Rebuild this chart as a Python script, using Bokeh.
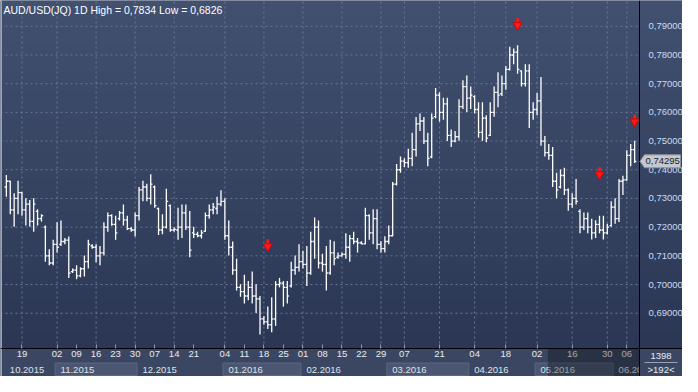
import numpy as np
from bokeh.plotting import figure
from bokeh.models import (Range1d, FixedTicker, CustomJSTickFormatter, Label, LinearAxis,
                          ColumnDataSource)
from bokeh.embed import file_html
from bokeh.resources import INLINE
from bokeh.core.properties import value

# ---------------- data (AUD/USD daily OHLC) ----------------
high = [
    .7382, .7362, .7318, .7362, .7323, .7301, .7295, .7301, .7262, .7245,
    .7206, .7123, .7156, .7217, .7223, .7162, .7167, .7056, .7067, .7060,
    .7101, .7156, .7140, .7140, .7134, .7217, .7251, .7245, .7240, .7256,
    .7279, .7240, .7200, .7251, .7340, .7362, .7351, .7384, .7345, .7268,
    .7245, .7334, .7279, .7200, .7268, .7279, .7279, .7256, .7201, .7184,
    .7190, .7251, .7279, .7284, .7306, .7329, .7301, .7223, .7150, .7090,
    .7001, .7034, .7012, .7045, .7001, .6960, .6890, .6923, .6956, .7012,
    .7023, .7012, .7012, .7079, .7101, .7140, .7118, .7134, .7184, .7234,
    .7223, .7107, .7134, .7156, .7151, .7112, .7112, .7179, .7173, .7184,
    .7162, .7151, .7268, .7245, .7262, .7262, .7151, .7168, .7206, .7357,
    .7420, .7446, .7440, .7473, .7529, .7584, .7596, .7584, .7529, .7596,
    .7685, .7670, .7651, .7651, .7540, .7535, .7646, .7712, .7729, .7690,
    .7660, .7635, .7635, .7590, .7635, .7690, .7740, .7729, .7762, .7829,
    .7823, .7834, .7746, .7768, .7768, .7635, .7668, .7723, .7518, .7490,
    .7479, .7390, .7401, .7407, .7335, .7318, .7368, .7262, .7251, .7251,
    .7229, .7224, .7240, .7240, .7212, .7290, .7301, .7368, .7379, .7468,
    .7490, .7501,
]
low = [
    .7306, .7245, .7201, .7245, .7240, .7206, .7201, .7184, .7206, .7220,
    .7079, .7067, .7067, .7112, .7134, .7140, .7023, .7040, .7018, .7025,
    .7028, .7056, .7125, .7078, .7067, .7101, .7184, .7205, .7156, .7223,
    .7206, .7190, .7184, .7167, .7223, .7290, .7290, .7279, .7268, .7173,
    .7175, .7195, .7184, .7184, .7156, .7162, .7190, .7095, .7162, .7165,
    .7160, .7184, .7229, .7245, .7245, .7273, .7156, .7101, .7034, .6979,
    .6957, .6934, .6945, .6934, .6901, .6826, .6860, .6845, .6834, .6856,
    .6990, .6923, .6934, .6990, .7034, .7045, .7056, .6995, .7034, .7090,
    .7056, .7045, .6979, .7034, .7067, .7090, .7098, .7090, .7079, .7140,
    .7112, .7140, .7140, .7156, .7140, .7123, .7112, .7112, .7140, .7168,
    .7345, .7390, .7410, .7407, .7412, .7446, .7535, .7490, .7412, .7440,
    .7580, .7568, .7574, .7500, .7479, .7496, .7501, .7612, .7601, .7612,
    .7596, .7512, .7501, .7496, .7518, .7585, .7618, .7657, .7679, .7746,
    .7768, .7735, .7690, .7690, .7546, .7574, .7590, .7484, .7446, .7435,
    .7340, .7301, .7335, .7312, .7257, .7268, .7279, .7179, .7190, .7179,
    .7157, .7162, .7179, .7157, .7174, .7201, .7212, .7218, .7312, .7362,
    .7412, .7424,
]
open_ = [
    .7340, .7360, .7260, .7300, .7320, .7260, .7280, .7220, .7255, .7230,
    .7200, .7100, .7075, .7140, .7140, .7150, .7155, .7045, .7050, .7030,
    .7055, .7080, .7135, .7130, .7100, .7110, .7200, .7240, .7210, .7230,
    .7250, .7225, .7195, .7190, .7240, .7330, .7340, .7300, .7340, .7265,
    .7190, .7200, .7275, .7190, .7190, .7200, .7250, .7200, .7180, .7175,
    .7170, .7185, .7240, .7260, .7265, .7280, .7290, .7170, .7130, .7050,
    .6990, .6975, .6960, .6990, .6960, .6950, .6880, .6870, .6860, .6880,
    .7000, .7005, .6990, .6995, .7050, .7060, .7080, .7070, .7040, .7150,
    .7200, .7075, .7070, .7040, .7110, .7095, .7100, .7105, .7130, .7160,
    .7150, .7145, .7142, .7240, .7180, .7230, .7140, .7125, .7150, .7170,
    .7350, .7400, .7430, .7425, .7440, .7470, .7560, .7570, .7500, .7445,
    .7585, .7660, .7600, .7630, .7520, .7500, .7515, .7620, .7690, .7650,
    .7655, .7610, .7530, .7580, .7520, .7600, .7670, .7665, .7700, .7750,
    .7800, .7810, .7745, .7700, .7745, .7600, .7610, .7640, .7500, .7460,
    .7450, .7360, .7340, .7380, .7330, .7280, .7300, .7255, .7200, .7230,
    .7200, .7180, .7210, .7190, .7180, .7205, .7270, .7230, .7360, .7365,
    .7450, .7470,
]
close_ = [
    .7360, .7260, .7300, .7320, .7260, .7280, .7220, .7280, .7230, .7240,
    .7100, .7075, .7140, .7130, .7150, .7155, .7040, .7050, .7030, .7055,
    .7080, .7140, .7130, .7100, .7110, .7200, .7240, .7210, .7180, .7250,
    .7225, .7195, .7190, .7240, .7330, .7340, .7300, .7350, .7275, .7190,
    .7200, .7290, .7190, .7192, .7200, .7250, .7200, .7120, .7175, .7170,
    .7180, .7240, .7260, .7270, .7280, .7290, .7170, .7130, .7050, .6990,
    .6975, .6960, .6990, .6960, .6950, .6880, .6870, .6860, .6880, .7000,
    .7005, .6990, .6960, .7050, .7060, .7080, .7070, .7040, .7150, .7200,
    .7075, .7070, .7040, .7110, .7090, .7100, .7105, .7130, .7160, .7150,
    .7145, .7142, .7240, .7180, .7230, .7140, .7125, .7150, .7170, .7350,
    .7400, .7430, .7425, .7440, .7470, .7560, .7570, .7500, .7440, .7580,
    .7660, .7600, .7630, .7520, .7500, .7515, .7620, .7690, .7650, .7660,
    .7610, .7530, .7580, .7510, .7600, .7670, .7660, .7700, .7750, .7800,
    .7810, .7750, .7700, .7745, .7600, .7610, .7640, .7500, .7460, .7450,
    .7360, .7330, .7380, .7330, .7280, .7300, .7290, .7200, .7230, .7200,
    .7180, .7210, .7190, .7180, .7200, .7270, .7230, .7360, .7365, .7450,
    .7470, .74295,
]
bar_idx = list(range(len(close_)))

# signal arrows (bar index, price of arrow tip)
sig_idx = [67, 131, 152, 161]
sig_tip = [0.7122, 0.7893, 0.7373, 0.7557]

# axis ticks / labels
price_ticks = [0.69, 0.70, 0.71, 0.72, 0.73, 0.74, 0.75, 0.76, 0.77, 0.78, 0.79]
day_tick_idx = [4, 13, 18, 23, 28, 33, 38, 43, 48, 56, 61, 66, 71, 76, 81, 86, 91, 96,
                102, 111, 120, 128, 136, 145, 154, 159]
day_tick_labels = ["19", "02", "09", "16", "23", "30", "07", "14", "21", "04", "11", "18",
                   "25", "01", "08", "15", "22", "29", "07", "21", "04", "18", "02", "16",
                   "30", "06"]
grid_idx = [4, 13, 23, 33, 43, 56, 66, 76, 86, 96, 102, 111, 120, 128, 136, 145, 154, 159]
month_start_idx = [0, 13, 34, 56, 76, 98, 119, 136, 156, 162]
month_labels = ["10.2015", "11.2015", "12.2015", "01.2016", "02.2016", "03.2016",
                "04.2016", "05.2016", "06.2016"]
title_text = "AUD/USD(JQ) 1D High = 0,7834 Low = 0,6826"
last_text = "0,74295"
count_text = "1398"
window_text = ">192<"
shade_from_idx = 139

# ---------------- layout constants ----------------
W, H = 682, 376
PRICE_W, PRICE_H = 639, 348       # pixel size of the price area inside the canvas
ROW_H = 14                          # each of the two date rows
X0, X1 = -1.5, 162.25
Y0, Y1 = 0.6777, 0.799
pxpi = PRICE_W / (X1 - X0)          # pixels per bar index
ppu = PRICE_H / (Y1 - Y0)           # pixels per price unit
SX1 = X0 + W / pxpi
SYM = Y0 - ROW_H / ppu
SY0 = Y0 - 2 * ROW_H / ppu
FONT = "Liberation Sans"
FS = "9.5px"


def dx(px):
    return px / pxpi


def dy(px):
    return px / ppu


p = figure(width=W, height=H, x_range=Range1d(X0, SX1), y_range=Range1d(SY0, Y1),
           output_backend="svg", toolbar_location=None, x_axis_location=None,
           y_axis_location=None, min_border=0)
p.grid.visible = False
p.outline_line_color = None
p.background_fill_color = "#36445f"
p.border_fill_color = "#36445f"

# vertical gradient background (price area + price scale)
n = 64
t = np.linspace(0.0, 1.0, n)
bot = np.array([43, 55, 84], dtype=float)
top = np.array([66, 81, 112], dtype=float)
rgb = bot[None, :] * (1 - t[:, None]) + top[None, :] * t[:, None]
img = np.empty((n, 1), dtype=np.uint32)
view = img.view(dtype=np.uint8).reshape((n, 1, 4))
view[:, 0, 0:3] = rgb.astype(np.uint8)
view[:, 0, 3] = 255
p.image_rgba(image=[img], x=X0, y=Y0, dw=SX1 - X0, dh=Y1 - Y0)

# dashed grid
p.segment(x0=grid_idx, y0=[Y0] * len(grid_idx), x1=grid_idx, y1=[Y1] * len(grid_idx),
          line_color="#687799", line_width=1, line_dash="2 3")
p.segment(x0=[X0] * len(price_ticks), y0=price_ticks, x1=[X1] * len(price_ticks),
          y1=price_ticks, line_color="#687799", line_width=1, line_dash="2 3")

# OHLC bars
src = ColumnDataSource(dict(
    x=bar_idx, o=open_, h=high, l=low, c=close_,
    xl=[i - 0.45 for i in bar_idx], xr=[i + 0.45 for i in bar_idx]))
p.segment(x0="x", y0="l", x1="x", y1="h", source=src, line_color="white", line_width=1.3)
p.segment(x0="xl", y0="o", x1="x", y1="o", source=src, line_color="white", line_width=1.3)
p.segment(x0="x", y0="c", x1="xr", y1="c", source=src, line_color="white", line_width=1.3)

# red arrows
sig = ColumnDataSource(dict(
    x=sig_idx,
    head=[v + 0.0011 for v in sig_tip],
    s0=[v + 0.0016 for v in sig_tip],
    s1=[v + 0.0036 for v in sig_tip]))
p.segment(x0="x", y0="s0", x1="x", y1="s1", source=sig, line_color="#ff1a1a", line_width=2.5)
p.scatter(x="x", y="head", source=sig, marker="inverted_triangle", size=9,
          fill_color="#ff1a1a", line_color="#e00000")

# date rows background, month boxes and labels
p.quad(left=[X0], right=[SX1], bottom=[SY0], top=[Y0], fill_color="#3b4762", line_color=None)
box_l = [month_start_idx[k] - 0.5 for k in (1, 3, 5, 7)]
box_r = [month_start_idx[k + 1] - 0.5 for k in (1, 3, 5, 7)]
p.quad(left=box_l, right=box_r, bottom=[SY0 + dy(1)] * 4, top=[SYM - dy(0.5)] * 4,
       fill_color="#4b5772", line_color="#5b6781")
p.text(x=[st + 0.9 for st in month_start_idx[:-1]], y=[(SY0 + SYM) / 2] * len(month_labels),
       text=month_labels, text_baseline="middle", text_align="left",
       text_font=value(FONT), text_font_size=value(FS), text_color="#dfe3ea")

# price-scale corner cell
p.quad(left=[X1], right=[SX1], bottom=[SY0], top=[Y0], fill_color="#3b4762", line_color=None)
p.segment(x0=[X1], y0=[SY0], x1=[X1], y1=[Y0], line_color="black", line_width=1)
p.segment(x0=[X1 + dx(5)], y0=[SYM], x1=[X1 + dx(38)], y1=[SYM], line_color="#9aa3b3",
          line_width=1)
p.text(x=[X1 + dx(21.5)] * 2, y=[(SYM + Y0) / 2, (SY0 + SYM) / 2],
       text=[count_text, window_text], text_baseline="middle", text_align="center",
       text_font=value(FONT), text_font_size=value(FS), text_color="#e8ebf0")

# light left edge of the chart window
p.segment(x0=[X0 + dx(0.75)], y0=[SY0], x1=[X0 + dx(0.75)], y1=[Y1], line_color="#9aa4b6",
          line_width=1.5)

# axes (fixed inside the canvas)
yax = LinearAxis(fixed_location=X1, bounds=(Y0, Y1))
yax.ticker = FixedTicker(ticks=price_ticks)
yax.formatter = CustomJSTickFormatter(code="return tick.toFixed(5).replace('.', ',');")
yax.axis_line_color = "black"
yax.major_tick_line_color = None
yax.minor_tick_line_color = None
yax.major_label_standoff = 3
yax.major_label_text_font = FONT
yax.major_label_text_font_size = FS
yax.major_label_text_color = "#cddbf0"
p.add_layout(yax, "right")

xax = LinearAxis(fixed_location=Y0, bounds=(X0, SX1))
xax.ticker = FixedTicker(ticks=day_tick_idx)
xax.major_label_overrides = {i: lab for i, lab in zip(day_tick_idx, day_tick_labels)}
xax.axis_line_color = "black"
xax.major_tick_in = 4
xax.major_tick_out = 0
xax.major_tick_line_color = "#8e98ac"
xax.minor_tick_line_color = None
xax.major_label_standoff = 2
xax.major_label_text_font = FONT
xax.major_label_text_font_size = FS
xax.major_label_text_color = "#e8ebf0"
p.add_layout(xax, "below")

# dimmed scroll region over the date rows
p.quad(left=[shade_from_idx - 0.25], right=[X1], bottom=[SY0], top=[Y0],
       fill_color="black", fill_alpha=0.3, line_color=None, level="overlay")

# last price tag
c = close_[-1]
p.patch(x=[X1 + dx(0.5), X1 + dx(5), X1 + dx(41), X1 + dx(41), X1 + dx(5)],
        y=[c, c + dy(6.5), c + dy(6.5), c - dy(6.5), c - dy(6.5)],
        fill_color="#c4c8d0", line_color="#8c929c", level="overlay")
p.text(x=[X1 + dx(6)], y=[c], text=[last_text], text_baseline="middle", text_align="left",
       text_font=value(FONT), text_font_size=value(FS), text_color="#1e1e1e",
       level="overlay")

# title
p.add_layout(Label(x=X0, y=Y1, x_offset=3, y_offset=-3, text=title_text, text_font=FONT,
                   text_font_size="10.5px", text_color="white", text_baseline="top"))

open("out.html", "w").write(file_html(p, INLINE))
